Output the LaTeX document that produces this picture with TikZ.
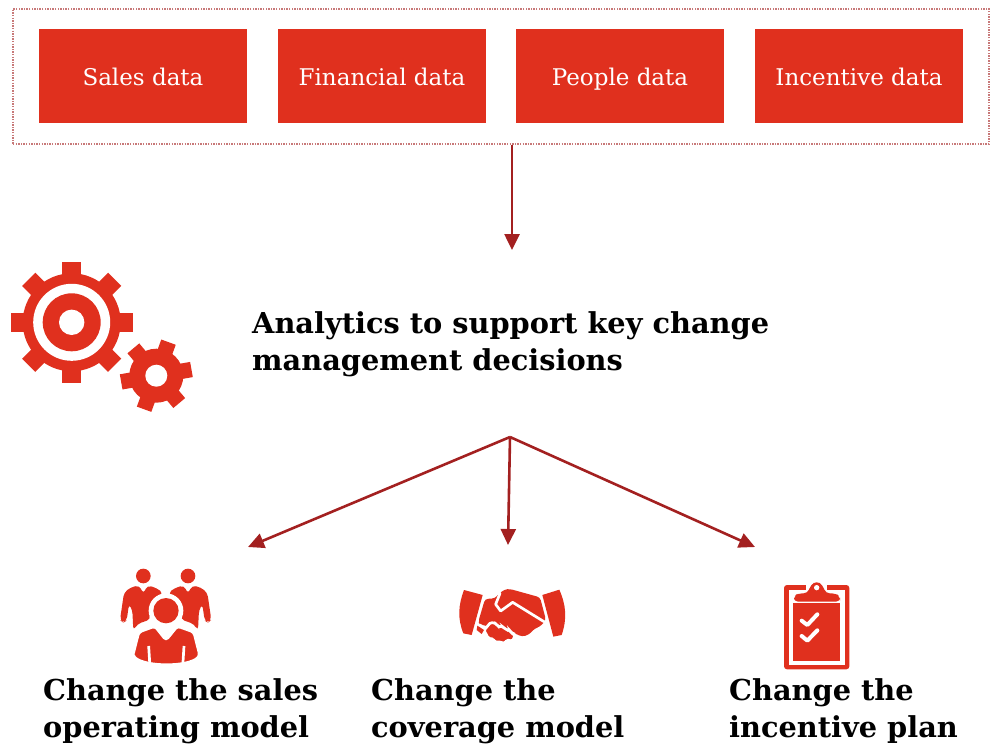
\documentclass[tikz,border=0pt]{standalone}
\usepackage{fontspec}
\setmainfont{DejaVu Serif}
\usetikzlibrary{positioning,arrows.meta,calc}
\definecolor{pwcred}{HTML}{E0301E}
\definecolor{pwcdark}{HTML}{A32020}

\begin{document}
\begin{tikzpicture}[
      x=1pt,
      y=-1pt,
      databox/.style = {
        fill=pwcred,
        text=white,
        minimum width=208pt,
        minimum height=94pt,
        inner sep=0pt,
        text height=25pt,
        text depth=5pt,
        font=\fontsize{23}{27}\selectfont
      },
      headline/.style = {
        anchor=north west,
        align=left,
        inner sep=0pt,
        font=\fontsize{28.8}{37}\selectfont\bfseries
      },
      arc/.style = {
        ->,
        >={Triangle[length=16pt,width=15pt]},
        draw=pwcdark,
        fill=pwcdark,
        line width=2.6pt
      },
      slit/.style = {
        draw=white,
        line width=2.7pt,
        line cap=round,
        line join=round
      }
    ]
    \useasboundingbox (0,0) rectangle (992,746);

    \node[draw=pwcdark!60,dash pattern=on 1.4pt off 1.2pt,line width=1.1pt,minimum width=976pt,minimum height=135pt,inner sep=0pt] (frame) at (501,76.5) {};

    \foreach \xpos/\boxname/\boxtext in {143/sales/Sales data, 382/financial/Financial data, 620/people/People data, 859/incentive/Incentive data} {
      \node[databox] (\boxname) at (\xpos,76) {\boxtext};
    }

    \node[headline] (analytics) at (252,311) {Analytics to support key change\\management decisions};
    \node[headline] (salesmodel) at (43,678) {Change the sales\\operating model};
    \node[headline] (coverage) at (371,678) {Change the\\coverage model};
    \node[headline] (plan) at (729,678) {Change the\\incentive plan};

    \coordinate (toptip) at (512,250);
    \coordinate (hub) at (510,437);
    \coordinate (lefttip) at (248,547);
    \coordinate (midtip) at (508,545);
    \coordinate (righttip) at (755,547);

    \draw[arc] (frame.south -| toptip) -- (toptip);
    \draw[arc] (hub) -- (lefttip);
    \draw[arc] (hub) -- (midtip);
    \draw[arc] (hub) -- (righttip);

    \foreach \ang in {0,45,...,315} {
      \fill[pwcred,rotate around={\ang:(71.7,322.3)}] (62.4,261.5) rectangle (81,290);
    }
    \fill[pwcred] (71.7,322.3) circle (49);
    \fill[white] (71.7,322.3) circle (38.5);
    \fill[pwcred] (71.7,322.3) circle (29);
    \fill[white] (71.7,322.3) circle (12.7);

    \foreach \ang in {10,70,...,310} {
      \fill[pwcred,rotate around={\ang:(156.3,375.7)}] (170,368) rectangle (192,383.4);
    }
    \fill[pwcred] (156.3,375.7) circle (27);
    \fill[white] (156.3,375.7) circle (11);

    \begin{scope}[shift={(100,560)},x=0.3333pt,y=-0.3333pt]
      \foreach \mirror/\offs in {1/0,-1/394} {
        \begin{scope}[shift={(\offs,0)},xscale=\mirror]
          \fill[pwcred] (130,48) circle (22);
          \fill[pwcred,rounded corners=4pt] (60,180) -- (72,98) -- (92,82) -- (118,76) -- (130,102) -- (142,76) -- (170,84) -- (190,100) -- (160,120) -- (146,150) -- (152,178) -- (112,192) -- (100,212) -- (97,150) -- (87,132) -- (80,182) -- (70,188) -- cycle;
        \end{scope}
      }
      \fill[white] (198,152) circle (52);
      \fill[pwcred] (198,152) circle (38);
      \fill[pwcred,draw=white,line width=3pt,rounded corners=3pt] (98,287) -- (116,216) -- (165,198) -- (198,240) -- (232,198) -- (282,216) -- (300,287) .. controls (265,322) and (135,322) .. (98,287) -- cycle;
      \draw[slit,line cap=butt] (146,258) -- (150,322);
      \draw[slit,line cap=butt] (252,258) -- (248,322);
    \end{scope}

    \begin{scope}[shift={(460,585)},x=0.3333pt,y=-0.3333pt]
      \fill[pwcred] (12,15) -- (68,30) -- (35,150) -- (10,145) .. controls (-8,100) and (-5,60) .. (12,15) -- cycle;
      \fill[pwcred] (298,14) -- (247,30) -- (280,155) -- (305,150) .. controls (322,100) and (318,60) .. (298,14) -- cycle;
      \fill[pwcred,rounded corners=3pt] (75,42) -- (105,40) -- (118,25) -- (135,13) -- (150,12) -- (240,37) -- (258,105) -- (240,125) -- (225,130) -- (205,150) -- (185,155) -- (165,145) -- (60,118) -- (55,110) -- cycle;
      \draw[slit] (120,25) -- (107,58) -- (122,78) -- (158,52) -- (252,110);
      \fill[pwcred,draw=white,line width=2.7pt,rounded corners=1.5pt] (72,136) -- (92,112) -- (110,116) -- (112,124) -- (130,125) -- (134,132) -- (150,136) -- (152,142) -- (166,148) -- (158,168) -- (140,165) -- (135,175) -- (115,170) -- (105,172) -- (100,162) -- (85,160) -- cycle;
      \fill[pwcred] (52,122) -- (72,135) -- (65,147) -- (50,135) -- cycle;
    \end{scope}

    \begin{scope}[shift={(770,570)},x=0.3333pt,y=-0.3333pt]
      \fill[pwcred,rounded corners=3pt] (42,45) rectangle (238,298);
      \fill[white] (56,60) rectangle (225,285);
      \fill[white] (108,40) rectangle (172,60);
      \fill[pwcred] (70,98) rectangle (210,272);
      \fill[pwcred,rounded corners=4pt] (72,95) -- (72,78) -- (85,70) -- (113,70) -- (122,45) -- (140,33) -- (158,45) -- (167,70) -- (197,70) -- (210,80) -- (210,95) -- cycle;
      \fill[white] (140,53) circle (8);
      \draw[slit,line width=4pt] (95,152) -- (112,165) -- (142,133);
      \draw[slit,line width=4pt] (95,198) -- (112,212) -- (142,181);
    \end{scope}
  \end{tikzpicture}
\end{document}
